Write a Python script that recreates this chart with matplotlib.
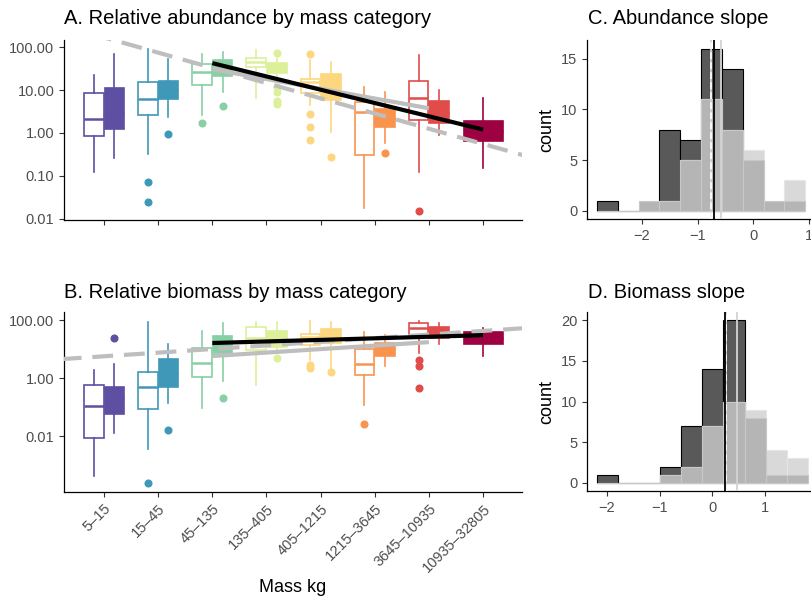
import numpy as np
import matplotlib
matplotlib.use('Agg')
import matplotlib.pyplot as plt
from matplotlib.ticker import NullLocator

plt.rcParams['font.family'] = ['Liberation Sans', 'DejaVu Sans']

# ---------------- data ----------------
categories = ['5–15', '15–45', '45–135', '135–405', '405–1215',
              '1215–3645', '3645–10935', '10935–32805']
colors = ['#5E4FA2', '#3F98B8', '#88D0A4', '#DCF09A', '#FDD77F',
          '#F9944F', '#DF4C4A', '#9E0142']

# box stats: [whislo, q1, med, q3, whishi]
abund_hollow = [[0.12, 0.85, 2.1, 8.5, 22], [0.32, 2.6, 6.2, 15.5, 89],
                [2.6, 13, 26, 40, 69], [6.5, 34, 45, 55, 85],
                [4.5, 8.5, 15.5, 18, 50], [0.018, 0.3, 3.1, 5.2, 11.7],
                [0.12, 2.0, 6.5, 16, 65]]
abund_hollow_fliers = [[], [0.072, 0.025], [1.7], [], [69, 2.75, 1.4, 0.7], [], [0.015]]
abund_filled = [[0.26, 1.23, 3.0, 11.2, 69], [2.3, 6.2, 10, 16.2, 52],
                [8.9, 21, 35, 50, 76], [19, 25, 33, 43, 60],
                [1.05, 5.9, 12, 23.5, 45], [0.59, 1.4, 2.2, 3.6, 9],
                [0.9, 1.7, 3.0, 5.5, 10], [0.155, 0.65, 1.1, 1.9, 6.5]]
abund_filled_fliers = [[], [0.95], [4.3], [72, 11.7, 9, 5.5, 4.7], [0.28], [0.34], [], []]

biom_hollow = [[0.00042, 0.0085, 0.107, 0.58, 1.9], [0.0035, 0.085, 0.49, 1.6, 85],
               [0.093, 1.07, 3.3, 10.7, 42], [0.58, 9.3, 24, 58, 85],
               [4.2, 13.8, 26, 33, 93], [0.117, 1.26, 3.0, 10, 39],
               [7.2, 30, 52, 79, 93]]
biom_hollow_fliers = [[], [0.00024], [], [], [2.8, 2.2], [0.026], [4.2, 2.6, 0.46]]
biom_filled = [[0.0126, 0.058, 0.2, 0.49, 3.0], [0.138, 0.49, 1.5, 4.6, 14.8],
               [0.79, 7.2, 15, 28, 79], [7.2, 11.7, 22, 42, 85],
               [1.9, 16.2, 28, 49, 85], [2.6, 5.8, 10, 16.2, 30],
               [14.8, 24, 38, 58, 79], [5.8, 14.8, 25, 39, 52]]
biom_filled_fliers = [[24], [0.016], [0.2], [4.9], [1.6], [], [], []]

# fitted lines in log10 space: (intercept, slope, x_start, x_end)
abund_black = (2.56, -0.31, 3, 8)
abund_gray = (2.17, -0.2275, 3, 7)
abund_dash = (2.585, -0.355, 0.2, 8.8)
biom_black = (1.048, 0.054, 3, 8)
biom_gray = (0.40, 0.12, 3, 7)
biom_dash = (0.6275, 0.125, 0.2, 8.8)

# histograms
ab_edge0, ab_width = -2.81, 0.375
ab_dark = [1, 0, 0, 8, 7, 16, 14, 0, 0, 0]
ab_light = [0, 0, 1, 1, 5, 11, 8, 6, 1, 3]
ab_med = [0, 0, 1, 1, 5, 11, 8, 5, 1, 1]
ab_vlines = {'black': -0.70, 'gray': [-0.76, -0.58], 'dash': -0.76}

bm_edge0, bm_width = -2.19, 0.4
bm_dark = [1, 0, 0, 2, 7, 14, 20, 0, 0, 0]
bm_light = [0, 0, 0, 1, 2, 7, 10, 9, 4, 3]
bm_med = [0, 0, 0, 1, 2, 7, 10, 8, 1, 1]
bm_vlines = {'black': 0.23, 'gray': [0.25, 0.47], 'dash': 0.25}

# ---------------- figure ----------------
W, H = 812, 601
fig = plt.figure(figsize=(W / 100, H / 100), dpi=100)

def px_axes(l, t, r, b):
    return fig.add_axes([l / W, 1 - b / H, (r - l) / W, (b - t) / H])

axA = px_axes(64, 40, 522, 220)
axB = px_axes(64, 312, 522, 492)
axC = px_axes(587, 40, 812, 219)
axD = px_axes(587, 312, 812, 491)

TICK_COL = '#4D4D4D'

def style(ax):
    for s in ['top', 'right']:
        ax.spines[s].set_visible(False)
    for s in ['left', 'bottom']:
        ax.spines[s].set_linewidth(0.9)
        ax.spines[s].set_color('black')
    ax.tick_params(length=3.5, width=0.8, color='#333333', labelcolor=TICK_COL,
                   labelsize=10.5)

def one_box(ax, st, fl, pos, width, color, filled):
    stats = [dict(whislo=st[0], q1=st[1], med=st[2], q3=st[3], whishi=st[4], fliers=fl)]
    ax.bxp(stats, positions=[pos], widths=width, patch_artist=True, showcaps=False,
           boxprops=dict(facecolor=color if filled else 'white', edgecolor=color, linewidth=1.2),
           whiskerprops=dict(color=color, linewidth=1.2),
           medianprops=dict(color=color, linewidth=1.8),
           flierprops=dict(marker='o', markerfacecolor=color, markeredgecolor=color,
                           markersize=4.8, linestyle='none'),
           manage_ticks=False, zorder=2)

def box_panel(ax, hollow, hollow_fl, filled, filled_fl, lines):
    for i in range(len(categories)):
        x = i + 1
        if i < len(hollow):
            one_box(ax, hollow[i], hollow_fl[i], x - 0.19, 0.36, colors[i], False)
            one_box(ax, filled[i], filled_fl[i], x + 0.19, 0.36, colors[i], True)
        else:
            one_box(ax, filled[i], filled_fl[i], x, 0.72, colors[i], True)
    dash, gray, black = lines
    for (a, b, x0, x1), kw in [(dash, dict(color='#BEBEBE', lw=3, dashes=(5, 2.6))),
                               (gray, dict(color='#BEBEBE', lw=3)),
                               (black, dict(color='black', lw=3))]:
        xs = np.array([x0, x1])
        ax.plot(xs, 10 ** (a + b * xs), solid_capstyle='butt', zorder=3, **kw)
    ax.set_yscale('log')
    ax.yaxis.set_minor_locator(NullLocator())
    ax.set_xlim(0.26, 8.72)
    ax.set_xticks(range(1, len(categories) + 1))
    style(ax)

box_panel(axA, abund_hollow, abund_hollow_fliers, abund_filled, abund_filled_fliers,
          (abund_dash, abund_gray, abund_black))
axA.set_ylim(10 ** -2.03, 10 ** 2.17)
axA.set_yticks([0.01, 0.1, 1, 10, 100], ['0.01', '0.10', '1.00', '10.00', '100.00'])
axA.set_xticklabels([])

box_panel(axB, biom_hollow, biom_hollow_fliers, biom_filled, biom_filled_fliers,
          (biom_dash, biom_gray, biom_black))
axB.set_ylim(10 ** -3.93, 10 ** 2.28)
axB.set_yticks([0.01, 1, 100], ['0.01', '1.00', '100.00'])
axB.set_xticklabels(categories, rotation=45, ha='right', va='top', rotation_mode='anchor')
fig.text(293 / W, 1 - 587 / H, 'Mass kg', fontsize=13, ha='center', va='center')

def hist_panel(ax, e0, w, dark, light, med, vl):
    n = len(dark)
    lefts = e0 + w * np.arange(n)
    ax.bar(lefts, dark, width=w, align='edge', color='#595959', edgecolor='black',
           linewidth=0.8, zorder=2)
    ax.bar(lefts, light, width=w, align='edge', color='#D9D9D9', edgecolor='#E6E6E6',
           linewidth=0.8, zorder=3)
    ax.bar(lefts, med, width=w, align='edge', color='#B5B5B5', edgecolor='#C8C8C8',
           linewidth=0.8, zorder=4)
    for g in vl['gray']:
        ax.axvline(g, color='#D3D3D3', lw=1.3, zorder=5)
    ax.axvline(vl['dash'], color='white', lw=1.2, dashes=(4, 2), zorder=6)
    ax.axvline(vl['black'], color='black', lw=1.3, zorder=7)
    ax.set_ylabel('count', fontsize=13, labelpad=4)
    style(ax)

hist_panel(axC, ab_edge0, ab_width, ab_dark, ab_light, ab_med, ab_vlines)
axC.set_xlim(-2.99, 1.06)
axC.set_ylim(-0.8, 16.85)
axC.set_xticks([-2, -1, 0, 1], ['−2', '−1', '0', '1'])
axC.set_yticks([0, 5, 10, 15])

hist_panel(axD, bm_edge0, bm_width, bm_dark, bm_light, bm_med, bm_vlines)
axD.set_xlim(-2.38, 1.89)
axD.set_ylim(-1.0, 21.0)
axD.set_xticks([-2, -1, 0, 1], ['−2', '−1', '0', '1'])
axD.set_yticks([0, 5, 10, 15, 20])

# titles
TS = 14.5
fig.text(64 / W, 1 - 18 / H, 'A. Relative abundance by mass category', fontsize=TS,
         ha='left', va='center')
fig.text(64 / W, 1 - 292 / H, 'B. Relative biomass by mass category', fontsize=TS,
         ha='left', va='center')
fig.text(588 / W, 1 - 18 / H, 'C. Abundance slope', fontsize=TS, ha='left', va='center')
fig.text(588 / W, 1 - 292 / H, 'D. Biomass slope', fontsize=TS, ha='left', va='center')

fig.savefig('out.png', dpi=100)
